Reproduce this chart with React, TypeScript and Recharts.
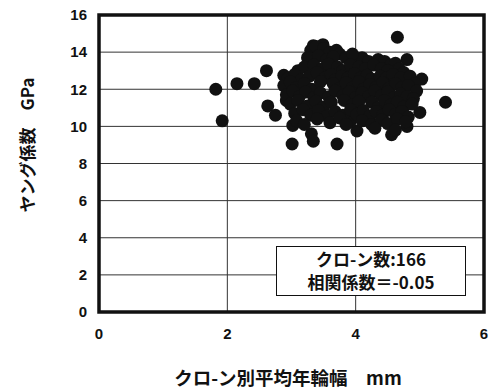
import {
  ScatterChart,
  Scatter,
  XAxis,
  YAxis,
  CartesianGrid,
  ReferenceArea,
} from "recharts";

// クローン別平均年輪幅 (mm) and ヤング係数 (GPa), one entry per clone (166)
const ringWidth = [
  // outliers around the cluster
  1.82, 1.92, 2.15, 2.42, 2.61, 2.63, 2.75, 3.01, 3.31, 3.34, 3.71, 4.65, 4.8,
  5.03, 5.0, 5.4, 4.8, 4.56, 4.02, 3.91, 3.34, 3.49, 3.02, 2.88, 2.92,
  // top of cluster
  3.3, 3.38, 3.5, 3.6, 3.7, 3.75,
  3.25, 3.42, 3.55, 3.65, 3.85, 4.0, 4.1, 4.2, 4.35, 4.45, 4.55, 4.62, 3.95,
  3.1, 3.2, 3.35, 3.48, 3.58, 3.72, 3.8, 3.92, 4.05, 4.15, 4.28, 4.4, 4.5, 4.68, 4.75,
  2.95, 3.05, 3.15, 3.28, 3.4, 3.52, 3.62, 3.68, 3.78, 3.88, 3.98, 4.08, 4.18, 4.25,
  4.38, 4.48, 4.58, 4.7, 4.85, 4.92,
  // middle
  2.88, 2.98, 3.08, 3.2, 3.32, 3.45, 3.65, 3.75, 3.85, 3.95, 4.05, 4.12, 4.22, 4.32,
  4.42, 4.52, 4.62, 4.72, 4.82, 4.95,
  2.92, 3.02, 3.12, 3.22, 3.35, 3.45, 3.58, 3.68, 3.8, 3.9, 4.0, 4.1, 4.2, 4.3, 4.4,
  4.5, 4.6, 4.7, 4.8, 4.9,
  2.98, 3.1, 3.25, 3.38, 3.5, 3.62, 3.82, 3.95, 4.05, 4.25, 4.35, 4.45, 4.55, 4.65,
  4.75, 4.88,
  // bottom
  3.05, 3.18, 3.3, 3.42, 3.55, 3.68, 3.8, 3.92, 4.02, 4.12, 4.22, 4.32, 4.42, 4.52,
  4.62, 4.72, 4.82,
  3.08, 3.2, 3.4, 3.6, 3.75, 3.85, 4.1, 4.25, 4.4, 4.5, 4.65, 4.78,
  4.3, 4.62,
];

const youngModulus = [
  12.0, 10.3, 12.3, 12.3, 13.0, 11.1, 10.6, 9.05, 9.6, 9.2, 9.05, 14.8, 13.6,
  12.55, 10.75, 11.3, 10.0, 9.55, 9.75, 10.25, 14.35, 14.4, 10.05, 12.75, 11.4,
  14.1, 14.3, 14.2, 14.0, 14.1, 13.9,
  13.7, 13.8, 13.6, 13.75, 13.7, 13.65, 13.7, 13.5, 13.6, 13.5, 13.3, 13.4, 13.9,
  13.0, 13.2, 13.3, 13.1, 13.35, 13.2, 13.0, 13.3, 13.2, 13.1, 13.3, 13.1, 13.0, 13.1, 12.9,
  12.6, 12.8, 12.5, 12.7, 12.9, 12.6, 12.8, 12.5, 12.7, 12.6, 12.85, 12.6, 12.75, 12.55,
  12.7, 12.6, 12.8, 12.6, 12.7, 12.3,
  12.2, 12.4, 12.1, 12.3, 12.0, 12.4, 12.3, 12.05, 12.35, 12.1, 12.4, 12.0, 12.25, 12.1,
  12.35, 12.05, 12.3, 12.1, 12.2, 11.9,
  11.7, 11.9, 11.6, 11.85, 11.55, 11.8, 11.6, 11.9, 11.65, 11.85, 11.55, 11.8, 11.6, 11.9,
  11.65, 11.85, 11.55, 11.75, 11.6, 11.5,
  11.2, 11.4, 11.1, 11.35, 11.05, 11.3, 11.4, 11.15, 11.35, 11.3, 11.0, 11.4, 11.15, 11.3,
  11.05, 11.2,
  10.7, 10.9, 10.6, 10.85, 10.55, 10.8, 10.6, 10.9, 10.65, 10.85, 10.55, 10.8, 10.6, 10.9,
  10.65, 10.8, 10.5,
  10.3, 10.1, 10.4, 10.2, 10.45, 10.1, 10.3, 10.1, 10.35, 10.15, 10.4, 10.25,
  9.9, 9.8,
];

const xTicks = [0, 2, 4, 6];
const yTicks = [0, 2, 4, 6, 8, 10, 12, 14, 16];

const points = ringWidth.map((x, i) => ({ x, y: youngModulus[i] }));

const tickStyle = {
  fill: "#111",
  fontSize: 15,
  fontWeight: "bold",
  fontFamily: "'Liberation Sans', Arial, sans-serif",
};

const jpFont = "'Noto Sans CJK JP', 'Liberation Sans', sans-serif";

function Dot(props: { cx?: number; cy?: number }) {
  const { cx, cy } = props;
  if (cx == null || cy == null) return null;
  return <circle cx={cx} cy={cy} r={6.5} fill="#111" />;
}

export default function App() {
  return (
    <div
      style={{
        position: "absolute",
        left: 0,
        top: 0,
        width: 490,
        height: 390,
        background: "#fff",
      }}
    >
      <ScatterChart
        width={490}
        height={390}
        margin={{ top: 15, right: 6, bottom: 48, left: 0 }}
      >
        <CartesianGrid stroke="#333" strokeWidth={1} />
        <XAxis
          type="number"
          dataKey="x"
          domain={[0, 6]}
          ticks={xTicks}
          height={30}
          axisLine={false}
          tickLine={false}
          tickSize={0}
          tickMargin={16}
          tick={tickStyle}
          interval={0}
        />
        <YAxis
          type="number"
          dataKey="y"
          domain={[0, 16]}
          ticks={yTicks}
          width={99}
          axisLine={false}
          tickLine={false}
          tickSize={0}
          tickMargin={12}
          tick={tickStyle}
          interval={0}
        />
        <ReferenceArea
          x1={0}
          x2={6}
          y1={0}
          y2={16}
          fill="none"
          fillOpacity={0}
          stroke="#111"
          strokeWidth={3.5}
        />
        <Scatter data={points} shape={Dot} isAnimationActive={false} />
      </ScatterChart>

      {/* stats box */}
      <div
        style={{
          position: "absolute",
          left: 276,
          top: 246,
          width: 190,
          height: 50,
          boxSizing: "border-box",
          border: "1.5px solid #111",
          background: "#fff",
          fontFamily: jpFont,
          fontWeight: "bold",
          fontSize: 17,
          color: "#111",
          textAlign: "center",
          lineHeight: "23px",
          paddingTop: 0,
        }}
      >
        <div>クロ-ン数:166</div>
        <div>相関係数＝-0.05</div>
      </div>

      {/* axis titles */}
      <div
        style={{
          position: "absolute",
          left: 288,
          top: 377,
          transform: "translate(-50%, -50%)",
          whiteSpace: "nowrap",
          fontFamily: jpFont,
          fontWeight: "bold",
          fontSize: 18.5,
          color: "#111",
        }}
      >
        クロ-ン別平均年輪幅　mm
      </div>
      <div
        style={{
          position: "absolute",
          left: 26,
          top: 145,
          transform: "translate(-50%, -50%) rotate(-90deg)",
          whiteSpace: "nowrap",
          fontFamily: jpFont,
          fontWeight: "bold",
          fontSize: 17,
          color: "#111",
        }}
      >
        ヤング係数　GPa
      </div>
    </div>
  );
}
